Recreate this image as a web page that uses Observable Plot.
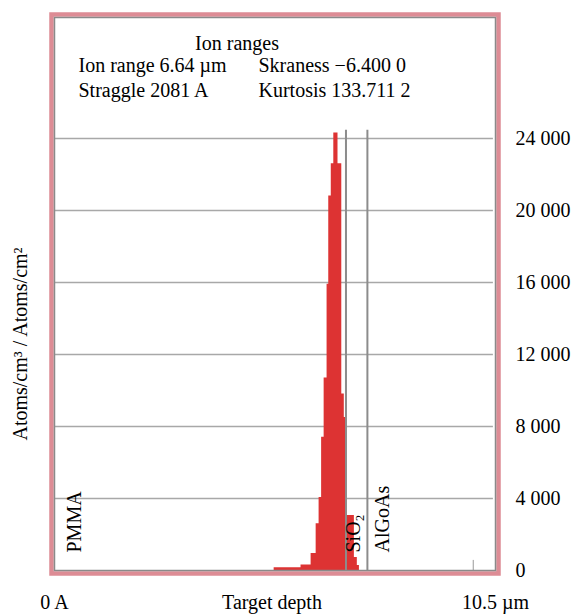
<!DOCTYPE html>
<html><head><meta charset="utf-8">
<script src="https://cdn.jsdelivr.net/npm/d3@7"></script>
<script src="https://cdn.jsdelivr.net/npm/@observablehq/plot@0.6"></script>
<style>body{margin:0;background:#fff}</style>
</head><body><div id="chart"></div>
<script>
// Histogram bins (depth in µm) and counts
const binEdges = [5.23, 5.87, 6.11, 6.23, 6.30, 6.36, 6.42, 6.49, 6.53, 6.59, 6.65, 6.75, 6.84, 6.90, 6.94, 7.14, 7.21, 7.26];
const counts   = [150, 300, 950, 2600, 4050, 7400, 10700, 15900, 20800, 22600, 24300, 22600, 9800, 8500, 3050, 720, 280];
// Layers
const layerNames  = ["PMMA", "SiO₂", "AlGoAs"];
const layerStarts = [0, 6.94, 7.45];
const boundaryTop = [24450, 24450];
// small marker near the right end
const markerDepth = [9.97];
const markerTop = [560];
// Axes
const yTicks = [0, 4000, 8000, 12000, 16000, 20000, 24000];
const xEndTicks = [0, 10.5];
const xEndLabels = ["0 A", "10.5 µm"];
const xLabel = "Target depth";
const yLabel = "Atoms/cm³ / Atoms/cm²";
// Header texts
const title = "Ion ranges";
const statsLeft = ["Ion range 6.64 µm", "Straggle 2081 A"];
const statsRight = ["Skraness −6.400 0", "Kurtosis 133.711 2"];

// step outline: each edge carries the count of the bin that starts there (last edge closes at 0)
const steps = binEdges.map((e, i) => ({x: e, count: i < counts.length ? counts[i] : 0}));
const red = "#dd3333";
const fmt = d => d3.format(",")(d).replace(/,/g, " ");
const layerDx = [20, 8, 15];

const plot = Plot.plot({
  width: 572,
  height: 614,
  marginLeft: 54,
  marginRight: 77,
  marginTop: 17,
  marginBottom: 44,
  style: {fontFamily: "'Liberation Serif', 'Times New Roman', serif", fontSize: "20px", color: "#000", background: "#fff"},
  x: {domain: [0, 10.5]},
  y: {domain: [0, 30720]},
  marks: [
    Plot.ruleY(yTicks.filter(d => d > 0), {x1: 0, x2: 10.45, stroke: "#a8a8a8", strokeWidth: 1.5}),
    Plot.areaY(steps, {x: "x", y: "count", curve: "step-after", fill: red}),
    Plot.ruleX(layerStarts.slice(1), {y1: 0, y2: (d, i) => boundaryTop[i], stroke: "#8c8c8c", strokeWidth: 2}),
    Plot.ruleX(markerDepth, {y1: 0, y2: (d, i) => markerTop[i], stroke: "#999", strokeWidth: 1}),
    ...layerNames.map((name, i) => Plot.text([name], {
      x: layerStarts[i], y: 0, text: d => d,
      rotate: -90, textAnchor: "start", lineAnchor: "middle",
      dx: layerDx[i], dy: -18
    })),
    Plot.frame({stroke: "#dd8c95", strokeWidth: 4.5, inset: -3}),
    Plot.frame({stroke: "#8a8a8a", strokeWidth: 1.5}),
    Plot.axisY({anchor: "right", ticks: yTicks, tickFormat: fmt, tickSize: 0, tickPadding: 20, label: null, fontSize: 20}),
    Plot.axisX({ticks: xEndTicks, tickFormat: (d) => xEndLabels[xEndTicks.indexOf(d)], tickSize: 0, tickPadding: 24, label: null, fontSize: 20}),
    Plot.text([xLabel], {frameAnchor: "bottom", dx: -3, dy: 32, text: d => d, lineAnchor: "middle"}),
    Plot.text([yLabel], {frameAnchor: "left", dx: -34, dy: 50, rotate: -90, text: d => d, textAnchor: "middle", lineAnchor: "middle"}),
    Plot.text([title], {frameAnchor: "top", dx: -38, dy: 26, text: d => d, lineAnchor: "middle"}),
    Plot.text([statsLeft.join("\n")], {frameAnchor: "top-left", dx: 24, dy: 59, text: d => d, textAnchor: "start", lineAnchor: "middle", lineHeight: 1.22}),
    Plot.text([statsRight.join("\n")], {frameAnchor: "top-left", dx: 204, dy: 59, text: d => d, textAnchor: "start", lineAnchor: "middle", lineHeight: 1.22})
  ]
});
document.getElementById("chart").append(plot);
</script>
</body></html>
